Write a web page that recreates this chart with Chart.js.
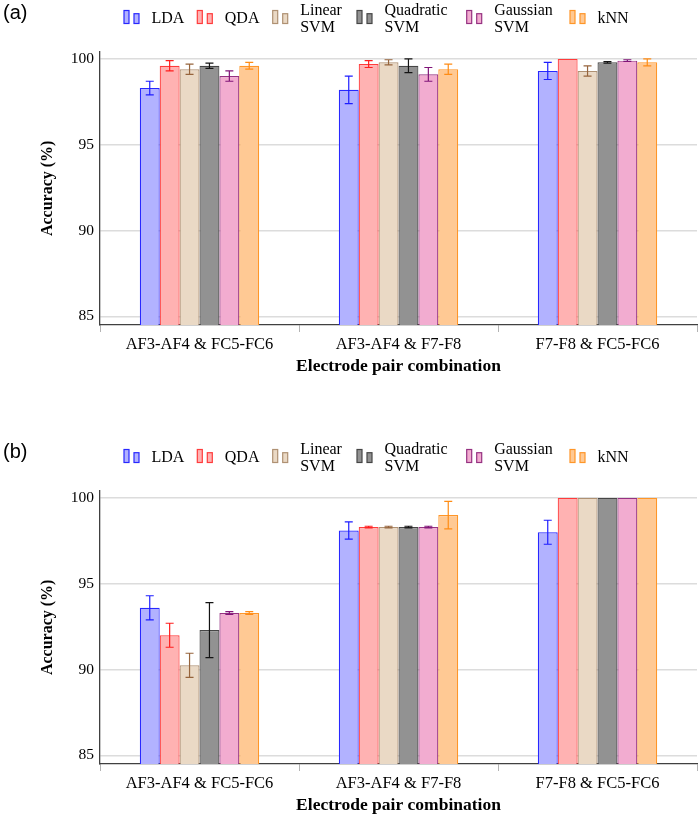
<!DOCTYPE html>
<html>
<head>
<meta charset="utf-8">
<script src="https://cdn.jsdelivr.net/npm/chart.js@4.4.1/dist/chart.umd.min.js"></script>
<style>
  body { margin: 0; background: #fff; width: 700px; height: 816px; position: relative; overflow: hidden; }
  .panel { position: absolute; left: 0; width: 700px; height: 377px; }
  .tag { position: absolute; left: 3px; font: 20px "Liberation Sans", Arial, sans-serif; line-height: 25px; color: #000; }
</style>
</head>
<body>
<div class="panel" style="top:0"><canvas id="chartA" width="700" height="377"></canvas></div>
<div class="tag" style="top:0">(a)</div>
<div class="panel" style="top:439px"><canvas id="chartB" width="700" height="377"></canvas></div>
<div class="tag" style="top:439px">(b)</div>
<script>
"use strict";

// 카테고리 / 분류기
const pairs = ['AF3-AF4 & FC5-FC6', 'AF3-AF4 & F7-F8', 'F7-F8 & FC5-FC6'];
const classifiers = ['LDA', 'QDA', 'Linear SVM', 'Quadratic SVM', 'Gaussian SVM', 'kNN'];
const yTicks = [85, 90, 95, 100];

// (a) 평균 정확도
const ldaA = [98.3, 98.2, 99.3];
const qdaA = [99.6, 99.7, 100];
const linSvmA = [99.4, 99.8, 99.3];
const quadSvmA = [99.6, 99.6, 99.8];
const gaussSvmA = [99.0, 99.1, 99.9];
const knnA = [99.6, 99.4, 99.8];
// (a) 오차 (±)
const ldaErrA = [0.4, 0.8, 0.5];
const qdaErrA = [0.3, 0.2, 0];
const linSvmErrA = [0.3, 0.15, 0.3];
const quadSvmErrA = [0.15, 0.4, 0.05];
const gaussSvmErrA = [0.3, 0.4, 0.05];
const knnErrA = [0.2, 0.3, 0.2];

// (b) 평균 정확도
const ldaB = [93.6, 98.1, 98.0];
const qdaB = [92.0, 98.3, 100];
const linSvmB = [90.25, 98.3, 100];
const quadSvmB = [92.3, 98.3, 100];
const gaussSvmB = [93.3, 98.3, 100];
const knnB = [93.3, 99.0, 100];
// (b) 오차 (±)
const ldaErrB = [0.7, 0.5, 0.7];
const qdaErrB = [0.7, 0.05, 0];
const linSvmErrB = [0.7, 0.05, 0];
const quadSvmErrB = [1.6, 0.05, 0];
const gaussSvmErrB = [0.08, 0.05, 0];
const knnErrB = [0.08, 0.8, 0];

// 색상 (fill, border, errorbar)
const fills = ['rgb(178,178,255)', 'rgb(255,178,178)', 'rgb(234,217,197)', 'rgb(146,146,146)', 'rgb(242,172,208)', 'rgb(255,201,148)'];
const borders = ['rgb(40,40,255)', 'rgb(255,60,60)', 'rgb(175,145,115)', 'rgb(70,70,70)', 'rgb(150,50,130)', 'rgb(255,150,40)'];
const errColors = ['rgb(30,30,255)', 'rgb(255,30,30)', 'rgb(150,100,60)', 'rgb(20,20,20)', 'rgb(128,20,120)', 'rgb(255,140,20)'];

// 범례 아이콘 x 위치
const legendX = [124, 197.3, 272.7, 357, 466.7, 570];

const serif = '"Liberation Serif", "Times New Roman", serif';

// 에러바 그리기
const errorBarPlugin = {
  id: 'errorBars',
  afterDatasetsDraw(chart) {
    const ctx = chart.ctx;
    const y = chart.scales.y;
    ctx.save();
    chart.data.datasets.forEach((ds, i) => {
      const meta = chart.getDatasetMeta(i);
      meta.data.forEach((bar, j) => {
        const e = ds.errors[j];
        if (!e) return;
        const top = y.getPixelForValue(ds.data[j] + e);
        const bot = y.getPixelForValue(ds.data[j] - e);
        ctx.strokeStyle = ds.errorColor;
        ctx.lineWidth = 1.2;
        ctx.beginPath();
        ctx.moveTo(bar.x, top); ctx.lineTo(bar.x, bot);
        ctx.moveTo(bar.x - 4, top); ctx.lineTo(bar.x + 4, top);
        ctx.moveTo(bar.x - 4, bot); ctx.lineTo(bar.x + 4, bot);
        ctx.stroke();
      });
    });
    ctx.restore();
  }
};

// pgfplots 스타일 범례
const legendPlugin = {
  id: 'pgfLegend',
  afterDraw(chart) {
    const ctx = chart.ctx;
    ctx.save();
    chart.data.datasets.forEach((ds, i) => {
      const x0 = legendX[i];
      ctx.fillStyle = ds.backgroundColor;
      ctx.strokeStyle = ds.borderColor;
      ctx.lineWidth = 1.2;
      ctx.fillRect(x0, 10.5, 5, 13);
      ctx.strokeRect(x0, 10.5, 5, 13);
      ctx.fillRect(x0 + 10, 13.7, 5, 9.8);
      ctx.strokeRect(x0 + 10, 13.7, 5, 9.8);

      ctx.fillStyle = '#000';
      ctx.font = '16px ' + serif;
      ctx.textBaseline = 'middle';
      ctx.textAlign = 'left';
      const lines = ds.label.split(' ');
      if (lines.length === 1) {
        ctx.fillText(lines[0], x0 + 27.5, 18.5);
      } else {
        ctx.fillText(lines[0], x0 + 27.5, 10.3);
        ctx.fillText(lines[1], x0 + 27.5, 27.7);
      }
    });
    ctx.restore();
  }
};

function makeChart(id, values, errors) {
  const datasets = classifiers.map((name, i) => ({
    label: name,
    data: values[i],
    errors: errors[i],
    errorColor: errColors[i],
    backgroundColor: fills[i],
    borderColor: borders[i],
    borderWidth: 1.2,
    borderSkipped: 'bottom',
    categoryPercentage: 0.6,
    barPercentage: 1.0
  }));

  return new Chart(document.getElementById(id), {
    type: 'bar',
    data: { labels: pairs, datasets },
    options: {
      responsive: false,
      animation: false,
      layout: { padding: { top: 51.7, right: 3, left: 0, bottom: 0 } },
      plugins: {
        legend: { display: false },
        tooltip: { enabled: false }
      },
      scales: {
        x: {
          afterFit(scale) { scale.height = 52; },
          grid: { display: true, drawOnChartArea: false, drawTicks: true, tickLength: 7, offset: true, color: '#b4b4b4', lineWidth: 1 },
          border: { display: true, color: '#404040', width: 1.3 },
          ticks: { color: '#000', font: { family: serif, size: 16.5 }, padding: 3, maxRotation: 0 },
          title: { display: true, text: 'Electrode pair combination', color: '#000', font: { family: serif, size: 17.5, weight: 'bold', lineHeight: 1.2 }, padding: 0 }
        },
        y: {
          min: 84.5,
          max: 100.42,
          afterFit(scale) { scale.width = 100; },
          afterBuildTicks(scale) { scale.ticks = yTicks.map(v => ({ value: v })); },
          grid: { color: '#dcdcdc', lineWidth: 1.5, drawTicks: false },
          border: { display: true, color: '#404040', width: 1.3 },
          ticks: { color: '#000', font: { family: serif, size: 15.5 }, padding: 6 },
          title: { display: true, text: 'Accuracy (%)', color: '#000', font: { family: serif, size: 16, weight: 'bold', lineHeight: 1.2 }, padding: { top: 38.4, bottom: 0 } }
        }
      }
    },
    plugins: [errorBarPlugin, legendPlugin]
  });
}

makeChart('chartA',
  [ldaA, qdaA, linSvmA, quadSvmA, gaussSvmA, knnA],
  [ldaErrA, qdaErrA, linSvmErrA, quadSvmErrA, gaussSvmErrA, knnErrA]);

makeChart('chartB',
  [ldaB, qdaB, linSvmB, quadSvmB, gaussSvmB, knnB],
  [ldaErrB, qdaErrB, linSvmErrB, quadSvmErrB, gaussSvmErrB, knnErrB]);
</script>
</body>
</html>
